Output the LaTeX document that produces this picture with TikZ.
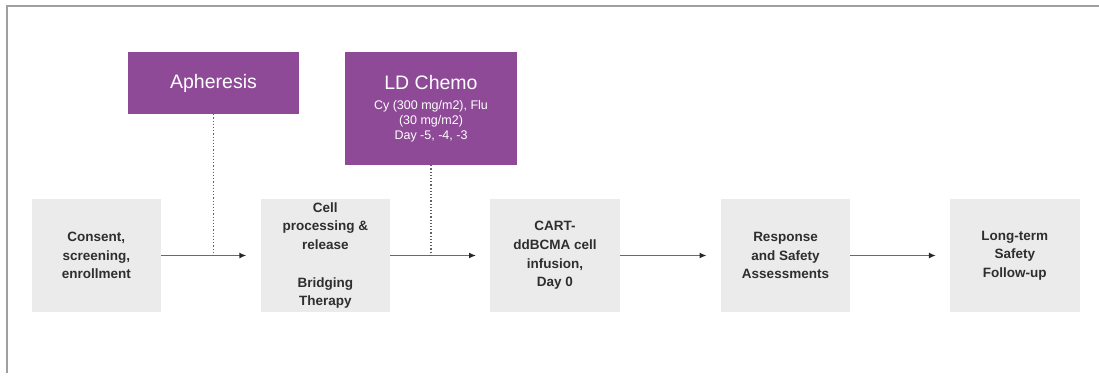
\documentclass[tikz,border=0pt]{standalone}
\usepackage{fontspec}
\setmainfont{Liberation Sans}
\usetikzlibrary{arrows.meta}
\definecolor{purp}{HTML}{8E4A97}
\definecolor{boxgray}{HTML}{EBEBEB}
\definecolor{txtgray}{HTML}{2E2E2E}
\definecolor{framegray}{HTML}{A0A0A0}
\definecolor{flowgray}{HTML}{6A6A6A}
\definecolor{linkgray}{HTML}{606060}
\newcommand\subtxt{\fontsize{12.5}{15}\selectfont}
\begin{document}
\begin{tikzpicture}[x=1pt,y=-1pt,
  stage/.style={fill=boxgray, minimum width=129.5pt, minimum height=113pt, inner sep=0pt,
    align=center, text=txtgray, font=\bfseries\fontsize{13.5}{18.7}\selectfont},
  phase/.style={fill=purp, text=white, align=center, inner sep=0pt},
  flow/.style={draw=flowgray, line width=1.6pt,
    -{Latex[length=7pt,width=6pt,fill=black!85,color=black!85]}, shorten >=14pt},
  link/.style={draw=linkgray, dotted, line width=1.2pt}]
\useasboundingbox (0,0) rectangle (1099,375);
\draw[framegray, line width=1.5pt] (7,373) -- (7,6) -- (1099,6);

\node[stage] (b1) at (96.3,255.5) {Consent,\\screening,\\enrollment};
\node[stage] (b2) at (325.3,255.5) {Cell\\processing \&\\release\\[18.7pt]Bridging\\Therapy};
\node[stage] (b3) at (555,255.5) {CART-\\ddBCMA cell\\infusion,\\Day 0};
\node[stage] (b4) at (785.5,255.5) {Response\\and Safety\\Assessments};
\node[stage] (b5) at (1014.8,255.5) {Long-term\\Safety\\Follow-up};

\node[phase, minimum width=171pt, minimum height=62pt, font=\fontsize{19.5}{22}\selectfont]
  (aph) at (213.5,83) {Apheresis};
\node[phase, minimum width=171.5pt, minimum height=113pt, font=\subtxt]
  (ld) at (431,108.5) {{\fontsize{19.5}{22}\selectfont LD Chemo}\\[5pt]
  Cy (300 mg/m2), Flu\\(30 mg/m2)\\Day -5, -4, -3};

\draw[flow] (b1) -- (b2);
\draw[flow] (b2) -- (b3);
\draw[flow] (b3) -- (b4);
\draw[flow] (b4) -- (b5);

\draw[link] (aph) -- (aph |- b1);
\draw[link] (ld) -- (ld |- b2);
\end{tikzpicture}
\end{document}
